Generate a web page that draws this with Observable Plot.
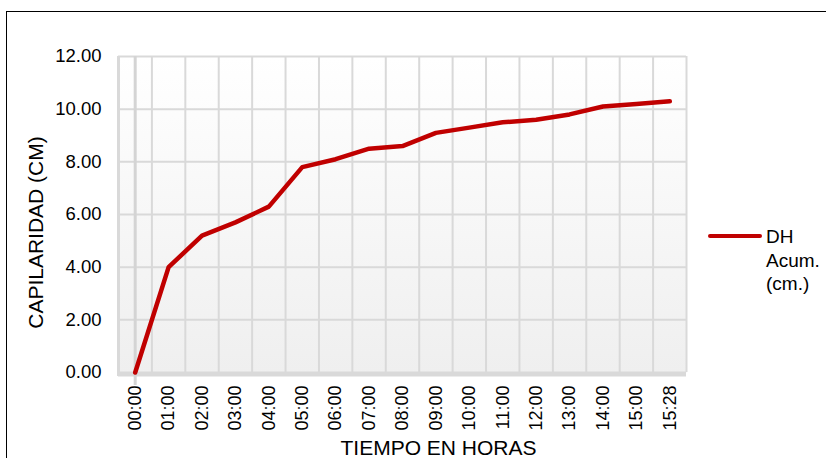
<!DOCTYPE html>
<html>
<head>
<meta charset="utf-8">
<script src="https://cdn.jsdelivr.net/npm/d3@7"></script>
<script src="https://cdn.jsdelivr.net/npm/@observablehq/plot@0.6"></script>
<style>
  html, body { margin: 0; padding: 0; background: #fff; overflow: hidden; }
  #wrap { position: relative; width: 826px; height: 458px; font-family: "Liberation Sans", Arial, sans-serif; }
  #frame { position: absolute; left: 6px; top: 11px; width: 900px; height: 500px; border: 1.5px solid #000; box-sizing: border-box; pointer-events: none; }
  #legend-line { position: absolute; left: 708px; top: 234px; width: 54px; height: 4px; background: #c00000; border-radius: 2px; }
  #legend-text { position: absolute; left: 766px; top: 225px; font-size: 19px; line-height: 23.5px; color: #000; }
</style>
</head>
<body>
<div id="wrap">
  <div id="chart"></div>
  <div id="legend-line"></div>
  <div id="legend-text">DH<br>Acum.<br>(cm.)</div>
  <div id="frame"></div>
</div>
<script>
const timeLabels = ["00:00","01:00","02:00","03:00","04:00","05:00","06:00","07:00","08:00","09:00","10:00","11:00","12:00","13:00","14:00","15:00","15:28"];
const dhValues = [0, 4.0, 5.2, 5.7, 6.3, 7.8, 8.1, 8.5, 8.6, 9.1, 9.3, 9.5, 9.6, 9.8, 10.1, 10.2, 10.3];
const yTicks = [0, 2, 4, 6, 8, 10, 12];
const yTitle = "CAPILARIDAD (CM)";
const xTitle = "TIEMPO EN HORAS";

const data = timeLabels.map((t, i) => ({i, t, v: dhValues[i]}));
const boundaries = d3.range(timeLabels.length + 1).map(k => k - 0.5);

const svg = Plot.plot({
  width: 826,
  height: 458,
  marginLeft: 118,
  marginRight: 140,
  marginTop: 56,
  marginBottom: 86,
  x: {type: "linear", domain: [-0.5, timeLabels.length - 0.5]},
  y: {domain: [0, 12]},
  style: {fontFamily: "'Liberation Sans', Arial, sans-serif", fontSize: "18px", color: "#000", background: "transparent"},
  marks: [
    Plot.frame({fill: "url(#bg)", stroke: null}),
    Plot.gridY(yTicks, {stroke: "#d9d9d9", strokeWidth: 2, strokeOpacity: 1}),
    Plot.gridX(boundaries, {stroke: "#d9d9d9", strokeWidth: 2, strokeOpacity: 1}),
    Plot.ruleY([0], {stroke: "#d9d9d9", strokeWidth: 4, dy: 2}),
    Plot.ruleX([-0.5], {stroke: "#d9d9d9", strokeWidth: 3, insetBottom: -4}),
    Plot.ruleX([0], {stroke: "#d4d4d4", strokeWidth: 3, insetBottom: -13}),
    Plot.axisY({ticks: yTicks, tickFormat: d => d.toFixed(2), tickSize: 0, tickPadding: 17, label: null, fontSize: 18.5}),
    Plot.axisX({ticks: data.map(d => d.i), tickFormat: i => timeLabels[i], tickRotate: -90, tickSize: 0, tickPadding: 13, label: null, fontSize: 18}),
    Plot.line(data, {x: "i", y: "v", stroke: "#c00000", strokeWidth: 4.5, strokeLinejoin: "round"}),
    Plot.text([yTitle], {frameAnchor: "left", dx: -82, dy: 18, rotate: -90, textAnchor: "middle", lineAnchor: "middle", fontSize: 21}),
    Plot.text([xTitle], {frameAnchor: "bottom", dx: 36, dy: 76, textAnchor: "middle", lineAnchor: "middle", fontSize: 21})
  ]
});

const defs = d3.select(svg).insert("defs", ":first-child");
const g = defs.append("linearGradient").attr("id", "bg").attr("x1", 0).attr("y1", 0).attr("x2", 0).attr("y2", 1);
g.append("stop").attr("offset", "0%").attr("stop-color", "#ffffff");
g.append("stop").attr("offset", "100%").attr("stop-color", "#efefef");

document.getElementById("chart").appendChild(svg);
</script>
</body>
</html>
